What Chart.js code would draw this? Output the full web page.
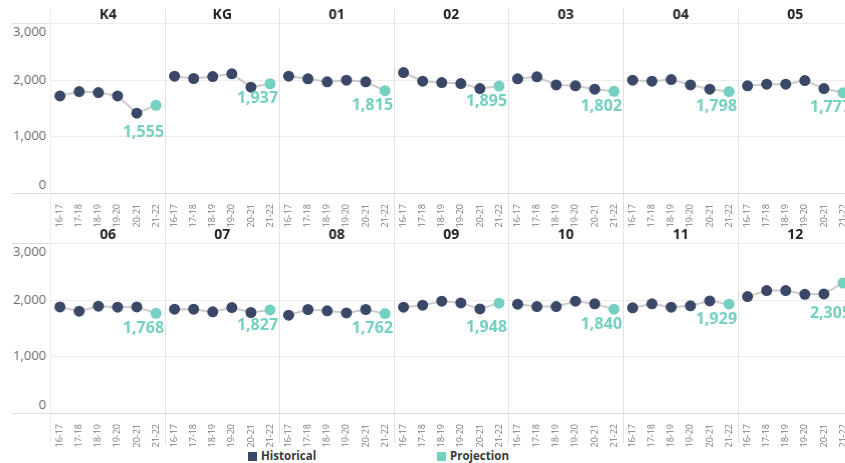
<!DOCTYPE html>
<html>
<head>
<meta charset="utf-8">
<script src="https://cdn.jsdelivr.net/npm/chart.js@4/dist/chart.umd.min.js"></script>
<style>
  body { margin: 0; background: #fff; }
  #wrap { position: relative; width: 845px; height: 463px; overflow: hidden; font-family: "Open Sans", sans-serif; }
  .panel { position: absolute; }
  .sep { position: absolute; width: 1px; background: #e2e2e2; }
  .legend { position: absolute; top: 448px; font-size: 11.5px; font-weight: bold; color: #3a3a3a; line-height: 16px; }
  .legend span { display: inline-block; width: 9px; height: 9px; margin-right: 4px; vertical-align: -1px; }
</style>
</head>
<body>
<div id="wrap"></div>
<script>
// Data
var grades = ["K4", "KG", "01", "02", "03", "04", "05", "06", "07", "08", "09", "10", "11", "12"];
var years = ["16-17", "17-18", "18-19", "19-20", "20-21", "21-22"];
var yTicks = [0, 1000, 2000, 3000];

// historical enrollment, 16-17 .. 20-21
var historical = [
  [1722, 1798, 1780, 1722, 1415],
  [2072, 2030, 2065, 2113, 1876],
  [2072, 2024, 1971, 2000, 1971],
  [2136, 1983, 1958, 1940, 1852],
  [2024, 2059, 1917, 1900, 1841],
  [2000, 1983, 2012, 1917, 1841],
  [1900, 1930, 1930, 1994, 1852],
  [1881, 1805, 1893, 1876, 1881],
  [1840, 1840, 1793, 1870, 1782],
  [1735, 1835, 1811, 1775, 1835],
  [1876, 1911, 1982, 1952, 1846],
  [1929, 1888, 1888, 1982, 1935],
  [1864, 1935, 1876, 1900, 1988],
  [2064, 2170, 2170, 2105, 2111]
];
// projection for 21-22
var projection = [1555, 1937, 1815, 1895, 1802, 1798, 1777, 1768, 1827, 1762, 1948, 1840, 1929, 2305];

var NAVY = "#3a4766";
var TEAL = "#74d0c0";
var LINE = "#cbcbcb";
var FONT = "'Open Sans', sans-serif";

var COL_X0 = 50;
var COL_W = 114.6;
var ROW_TOP = [0, 220];
var PANEL_H = 228;

var wrap = document.getElementById("wrap");
var fmt = new Intl.NumberFormat("en-US");

// label of the projected value, under the last point
var projLabel = {
  id: "projLabel",
  afterDatasetsDraw: function (chart) {
    var meta = chart.getDatasetMeta(0);
    var p = meta.data[5];
    var prev = meta.data[4];
    var y = p.y + 15;
    if (prev.y > p.y + 5) y = prev.y + 19; // keep clear of the rising line
    var c = chart.ctx;
    c.save();
    c.font = "bold 16px " + FONT;
    c.fillStyle = TEAL;
    c.textAlign = "right";
    c.textBaseline = "middle";
    c.fillText(fmt.format(chart.data.datasets[0].data[5]), p.x + 8, y);
    c.restore();
  }
};

// y labels for the first column, kept inside the plot height
var yLabels = {
  id: "yLabels",
  afterDraw: function (chart) {
    if (!chart.options.plugins.yLabels.show) return;
    var s = chart.scales.y;
    var c = chart.ctx;
    c.save();
    c.font = "13px " + FONT;
    c.fillStyle = "#666";
    c.textAlign = "right";
    c.textBaseline = "middle";
    yTicks.forEach(function (v) {
      var y = s.getPixelForValue(v);
      y = Math.min(Math.max(y, s.top + 8), s.bottom - 8);
      c.fillText(fmt.format(v), 46, y);
    });
    c.restore();
  }
};

function makePanel(i) {
  var row = Math.floor(i / 7);
  var col = i % 7;
  var first = col === 0;
  var div = document.createElement("div");
  div.className = "panel";
  div.style.left = (first ? 0 : COL_X0 + col * COL_W) + "px";
  div.style.top = ROW_TOP[row] + "px";
  div.style.width = (first ? COL_X0 + COL_W : COL_W) + "px";
  div.style.height = PANEL_H + "px";
  var canvas = document.createElement("canvas");
  div.appendChild(canvas);
  wrap.appendChild(div);

  var h = historical[i];
  new Chart(canvas, {
    type: "line",
    data: {
      labels: years,
      datasets: [
        {
          label: "Projection",
          data: [null, null, null, null, h[4], projection[i]],
          borderColor: LINE,
          borderWidth: 2,
          pointRadius: [0, 0, 0, 0, 0, 5.5],
          pointBackgroundColor: TEAL,
          pointBorderWidth: 0,
          order: 2
        },
        {
          label: "Historical",
          data: h.concat([null]),
          borderColor: LINE,
          borderWidth: 2,
          pointRadius: 5.5,
          pointBackgroundColor: NAVY,
          pointBorderWidth: 0,
          order: 1
        }
      ]
    },
    options: {
      responsive: true,
      maintainAspectRatio: false,
      animation: false,
      layout: { padding: 0, autoPadding: false },
      plugins: {
        legend: { display: false },
        tooltip: { enabled: false },
        yLabels: { show: first },
        title: {
          display: true,
          text: grades[i],
          fullSize: false,
          color: "#252423",
          font: { family: FONT, size: 14, weight: "bold" },
          padding: { top: 7, bottom: 0 }
        }
      },
      scales: {
        x: {
          offset: true,
          grid: { display: false },
          border: { display: false },
          ticks: {
            autoSkip: false,
            minRotation: 90,
            maxRotation: 90,
            padding: 3,
            color: "#7a7a7a",
            font: { family: FONT, size: 9 }
          },
          afterFit: function (s) {
            s.height = 35;
            s.paddingLeft = 0;
            s.paddingRight = 0;
          }
        },
        y: {
          min: 0,
          max: 3000,
          ticks: { stepSize: 1000, display: false },
          border: { display: false },
          grid: {
            color: function (ctx) { return ctx.tick.value === 0 ? "#d8d8d8" : "#ededed"; },
            drawTicks: first,
            tickLength: 38,
            tickColor: function (ctx) {
              return ctx.tick.value === 0 || ctx.tick.value === 3000 ? "#e0e0e0" : "rgba(0,0,0,0)";
            }
          },
          afterFit: function (s) { s.width = first ? COL_X0 : 0; }
        }
      }
    },
    plugins: [projLabel, yLabels]
  });
}

for (var i = 0; i < grades.length; i++) makePanel(i);

// panel separators
function addSep(x, top, height, color) {
  var d = document.createElement("div");
  d.className = "sep";
  d.style.left = Math.round(x) + "px";
  d.style.top = top + "px";
  d.style.height = height + "px";
  if (color) d.style.background = color;
  wrap.appendChild(d);
}
for (var r = 0; r < 2; r++) {
  var t = r === 0 ? 8 : 231;
  var hh = r === 0 ? 222 : 212;
  addSep(COL_X0, t, hh, "#eeeeee");
  for (var c = 1; c < 7; c++) addSep(COL_X0 + c * COL_W, t, hh);
}

// legend
var legendItems = [["Historical", NAVY, 248], ["Projection", TEAL, 437]];
legendItems.forEach(function (it) {
  var d = document.createElement("div");
  d.className = "legend";
  d.style.left = it[2] + "px";
  d.innerHTML = '<span style="background:' + it[1] + '"></span>' + it[0];
  wrap.appendChild(d);
});
</script>
</body>
</html>
